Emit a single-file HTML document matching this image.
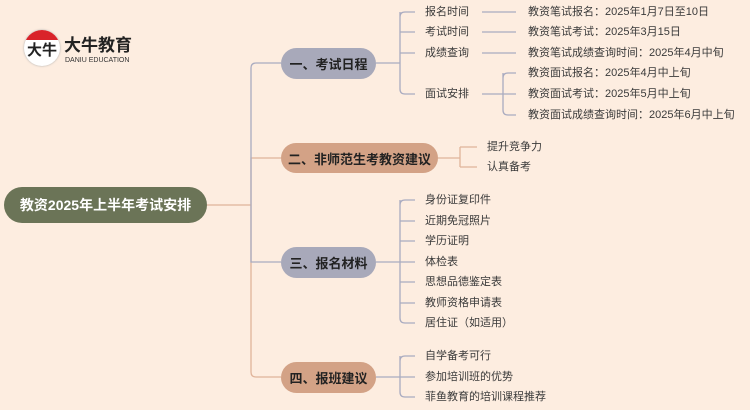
<!DOCTYPE html>
<html><head><meta charset="utf-8"><style>
body{margin:0;width:750px;height:410px;background:#fdede0;position:relative;overflow:hidden;font-family:"Liberation Sans","Noto Sans CJK SC",sans-serif}
.t{position:absolute;font-size:11px;color:#3a3a3a;line-height:14px;white-space:nowrap}
.n{position:absolute;border-radius:16px;font-weight:bold;font-size:13px;color:#222;display:flex;align-items:center;justify-content:center;white-space:nowrap}
svg{position:absolute;left:0;top:0}
</style></head><body>
<svg width="750" height="410" fill="none" stroke-width="1.3">
<g stroke="#e0b49a">
<path d="M207 205H251"/>
<path d="M251 205V158H281"/>
<path d="M251 205V372Q251 377 256 377H281"/>
<path d="M438 158H460M460 147V167M460 147H477M460 167H477"/>
</g>
<g stroke="#a9abc0">
<path d="M251 205V68Q251 63 256 63H281"/>
<path d="M251 205V262H281"/>
<path d="M376 63H400M400 17Q400 12 405 12H415M400 12V89Q400 94 405 94H415M400 32H415M400 53H415"/>
<path d="M482 12H516M482 32H516M482 53H516M482 94H503M503 78Q503 73 508 73H516M503 73V110Q503 115 508 115H516M503 94H516"/>
<path d="M376 262H400M400 205Q400 200 405 200H415M400 200V318Q400 323 405 323H415M400 221H415M400 241H415M400 262H415M400 282H415M400 303H415"/>
<path d="M376 377H400M400 361Q400 356 405 356H415M400 356V392Q400 397 405 397H415M400 377H415"/>
</g>
</svg>
<div style="position:absolute;left:24px;top:30px;width:36px;height:36px;border-radius:50%;background:#fff;box-shadow:0 0 2px #aaa;overflow:hidden"><div style="height:10px;background:#d9232a"></div><div style="position:absolute;left:3px;top:9px;font-size:15px;font-weight:bold;color:#222">大牛</div></div>
<div style="position:absolute;left:64px;top:36px;font-size:17px;font-weight:bold;color:#222;line-height:20px">大牛教育</div>
<div style="position:absolute;left:65px;top:57px;font-size:7px;color:#333;line-height:8px">DANIU EDUCATION</div>
<div class="n" style="left:4px;top:187px;width:203px;height:36px;border-radius:18px;background:#6b7457;color:#fff;font-size:14px">教资2025年上半年考试安排</div>
<div class="n" style="left:281px;top:48px;width:95px;height:31px;background:#a8a9ba">一、考试日程</div>
<div class="n" style="left:281px;top:143px;width:157px;height:30px;background:#d3a286">二、非师范生考教资建议</div>
<div class="n" style="left:281px;top:247px;width:95px;height:31px;background:#a8a9ba">三、报名材料</div>
<div class="n" style="left:281px;top:362px;width:95px;height:31px;background:#d3a286">四、报班建议</div>
<div class="t" style="left:425px;top:5px">报名时间</div>
<div class="t" style="left:425px;top:25px">考试时间</div>
<div class="t" style="left:425px;top:46px">成绩查询</div>
<div class="t" style="left:425px;top:87px">面试安排</div>
<div class="t" style="left:528px;top:5px">教资笔试报名：2025年1月7日至10日</div>
<div class="t" style="left:528px;top:25px">教资笔试考试：2025年3月15日</div>
<div class="t" style="left:528px;top:46px">教资笔试成绩查询时间：2025年4月中旬</div>
<div class="t" style="left:528px;top:66px">教资面试报名：2025年4月中上旬</div>
<div class="t" style="left:528px;top:87px">教资面试考试：2025年5月中上旬</div>
<div class="t" style="left:528px;top:108px">教资面试成绩查询时间：2025年6月中上旬</div>
<div class="t" style="left:487px;top:140px">提升竞争力</div>
<div class="t" style="left:487px;top:160px">认真备考</div>
<div class="t" style="left:425px;top:193px">身份证复印件</div>
<div class="t" style="left:425px;top:214px">近期免冠照片</div>
<div class="t" style="left:425px;top:234px">学历证明</div>
<div class="t" style="left:425px;top:255px">体检表</div>
<div class="t" style="left:425px;top:275px">思想品德鉴定表</div>
<div class="t" style="left:425px;top:296px">教师资格申请表</div>
<div class="t" style="left:425px;top:316px">居住证（如适用）</div>
<div class="t" style="left:425px;top:349px">自学备考可行</div>
<div class="t" style="left:425px;top:370px">参加培训班的优势</div>
<div class="t" style="left:425px;top:390px">菲鱼教育的培训课程推荐</div>
</body></html>
